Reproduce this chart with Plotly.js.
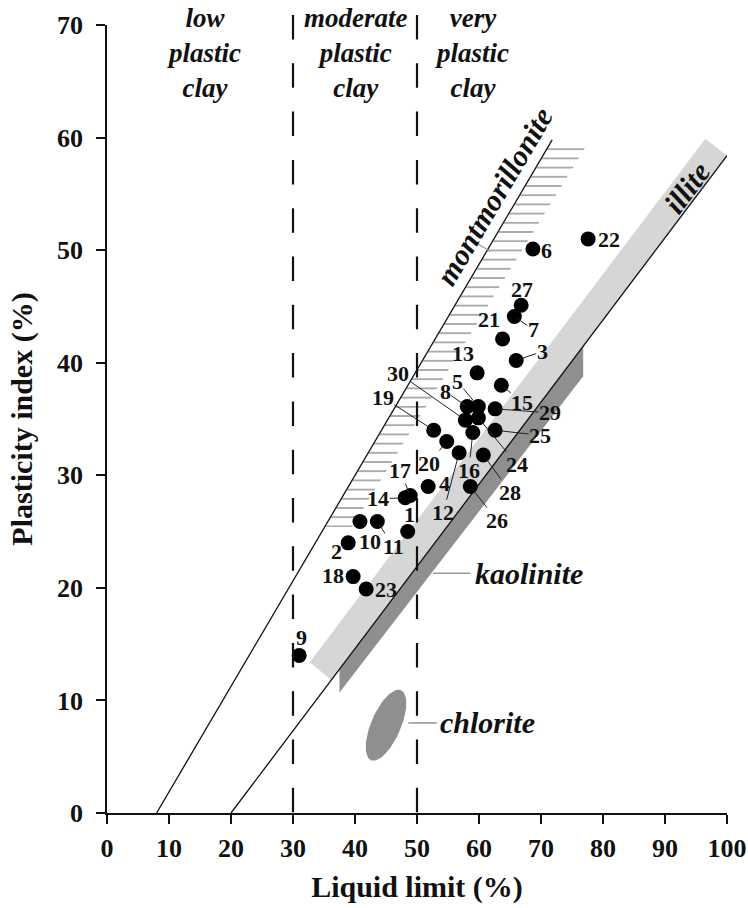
<!DOCTYPE html>
<html>
<head>
<meta charset="utf-8">
<script src="https://cdn.plot.ly/plotly-3.0.1.min.js"></script>
<style>html,body{margin:0;padding:0;background:#fff}</style>
</head>
<body>
<div id="chart" style="width:748px;height:908px"></div>
<script>
// Soil samples: liquid limit (LL, %) and plasticity index (PI, %)
const sampleIds = ['1','2','3','4','5','6','7','8','9','10','11','12','13','14','15',
                   '16','17','18','19','20','21','22','23','24','25','26','27','28','29','30'];
const liquidLimit = [48.5, 38.9, 66.0, 51.8, 59.9, 68.7, 65.7, 58.1, 31.0, 40.8, 43.6, 56.8, 59.7, 48.1, 63.6,
                     59.0, 48.9, 39.7, 52.7, 54.8, 63.8, 77.6, 41.8, 59.9, 62.6, 58.6, 66.8, 60.7, 62.6, 57.8];
const plasticityIndex = [25.0, 24.0, 40.2, 29.0, 36.1, 50.1, 44.1, 36.1, 14.0, 25.9, 25.9, 32.0, 39.1, 28.0, 38.0,
                         33.8, 28.2, 21.0, 34.0, 33.0, 42.1, 51.0, 19.9, 35.1, 34.0, 29.0, 45.1, 31.8, 35.9, 34.9];

// Upper limit line and A-line
const uLineLL = [8, 71.8];
const uLinePI = [0, 59.8];
const aLineLL = [20, 100];
const aLinePI = [0, 58.4];

// Plasticity classes along the LL axis
const zoneBoundsLL = [30, 50];
const zoneNames = ['low<br>plastic<br>clay', 'moderate<br>plastic<br>clay', 'very<br>plastic<br>clay'];
const zoneCentersLL = [15.7, 40.0, 58.8];

// Clay mineral fields
const illiteLL = [32.7, 96.5, 100.0, 36.2];
const illitePI = [13.4, 59.9, 58.4, 11.8];
const kaoliniteLL = [37.5, 76.8, 76.8, 37.5];
const kaolinitePI = [12.8, 41.5, 38.8, 10.7];
const montmorilloniteLL = [35.2, 71.2, 77.1, 39.5];
const montmorillonitePI = [25.4, 59.1, 59.1, 25.4];
// chlorite: centre and two half-axis vectors (LL, PI)
const chloriteCentre = [45.0, 7.8];
const chloriteMajor = [2.42, 3.11];
const chloriteMinor = [2.2, -0.52];

// Axis ticks
const xTicks = [0, 10, 20, 30, 40, 50, 60, 70, 80, 90, 100];
const yTicks = [0, 10, 20, 30, 40, 50, 60, 70];

// label placement around each marker: [dx px, dy px, leader line]
const labelPlacement = {
  '1':[2,-17,0], '2':[-12,9,0], '3':[26,-9,1], '4':[16,-3,0], '5':[-21,-25,1],
  '6':[14,1,0], '7':[19,13,1], '8':[-22,-15,1], '9':[2,-18,0], '10':[10,20,0],
  '11':[16,25,1], '12':[-16,60,1], '13':[-14,-19,1], '14':[-27,1,1], '15':[21,17,1],
  '16':[-4,38,1], '17':[-10,-25,1], '18':[-20,-1,0], '19':[-51,-33,1], '20':[-18,22,1],
  '21':[-14,-20,1], '22':[21,1,0], '23':[20,1,0], '24':[39,47,1], '25':[45,5,1],
  '26':[27,34,1], '27':[1,-16,0], '28':[27,37,1], '29':[55,4,1], '30':[-67,-47,1]
};

const SERIF = 'Liberation Serif, Times New Roman, serif';

const closeRing = a => a.concat([a[0]]);

// chlorite outline
const chlLL = [], chlPI = [];
for (let k = 0; k <= 72; k++) {
  const t = 2 * Math.PI * k / 72;
  chlLL.push(chloriteCentre[0] + Math.cos(t) * chloriteMajor[0] + Math.sin(t) * chloriteMinor[0]);
  chlPI.push(chloriteCentre[1] + Math.cos(t) * chloriteMajor[1] + Math.sin(t) * chloriteMinor[1]);
}

const traces = [
  { x: closeRing(illiteLL), y: closeRing(illitePI), type: 'scatter', mode: 'lines',
    fill: 'toself', fillcolor: '#d6d6d6', line: {width: 0}, hoverinfo: 'skip', showlegend: false },
  { x: closeRing(kaoliniteLL), y: closeRing(kaolinitePI), type: 'scatter', mode: 'lines',
    fill: 'toself', fillcolor: '#8f8f8f', line: {width: 0}, hoverinfo: 'skip', showlegend: false },
  { x: closeRing(montmorilloniteLL), y: closeRing(montmorillonitePI), type: 'scatter', mode: 'lines',
    fill: 'toself', fillcolor: 'rgba(0,0,0,0)', line: {width: 0},
    fillpattern: {shape: '-', size: 9.2, solidity: 0.17, fgcolor: '#9a9a9a', bgcolor: 'rgba(0,0,0,0)'},
    hoverinfo: 'skip', showlegend: false },
  { x: chlLL, y: chlPI, type: 'scatter', mode: 'lines',
    fill: 'toself', fillcolor: '#8f8f8f', line: {width: 0}, hoverinfo: 'skip', showlegend: false },
  { x: uLineLL, y: uLinePI, type: 'scatter', mode: 'lines',
    line: {color: '#111', width: 1.3}, hoverinfo: 'skip', showlegend: false },
  { x: aLineLL, y: aLinePI, type: 'scatter', mode: 'lines',
    line: {color: '#111', width: 1.3}, hoverinfo: 'skip', showlegend: false },
  { x: liquidLimit, y: plasticityIndex, text: sampleIds, type: 'scatter', mode: 'markers',
    marker: {color: '#000', size: 15}, cliponaxis: false, showlegend: false,
    hovertemplate: 'Sample %{text}<br>LL %{x}%<br>PI %{y}%<extra></extra>' }
];

const annotations = [];

// sample numbers
sampleIds.forEach((id, i) => {
  const p = labelPlacement[id];
  annotations.push({
    x: liquidLimit[i], y: plasticityIndex[i], xref: 'x', yref: 'y',
    text: id, showarrow: true, ax: p[0], ay: p[1], axref: 'pixel', ayref: 'pixel',
    arrowhead: 0, arrowwidth: 1, standoff: 3, startstandoff: 0,
    arrowcolor: p[2] ? '#222' : 'rgba(0,0,0,0)',
    borderpad: 0,
    font: {family: SERIF, size: 22, color: '#111', weight: 'bold'}
  });
});

// plasticity class headings
zoneNames.forEach((name, i) => {
  annotations.push({
    x: zoneCentersLL[i], y: 0.9645, xref: 'x', yref: 'paper', yanchor: 'middle',
    text: name, showarrow: false, align: 'center',
    font: {family: SERIF, size: 27, color: '#111', weight: 'bold', style: 'italic'}
  });
});

// mineral names
const mineralFont = {family: SERIF, size: 30, color: '#111', weight: 'bold', style: 'italic'};
annotations.push(
  { x: 62.4, y: 54.8, text: 'montmorillonite', showarrow: false, textangle: -59.5, font: mineralFont },
  { x: 93.5, y: 55.6, text: 'illite', showarrow: false, textangle: -53, font: mineralFont },
  { x: 59.0, y: 21.3, text: 'kaolinite', showarrow: false, xanchor: 'left', font: mineralFont },
  { x: 53.4, y: 8.0, text: 'chlorite', showarrow: false, xanchor: 'left', font: mineralFont }
);

const shapes = [];
// class boundaries
zoneBoundsLL.forEach(v => {
  shapes.push({ type: 'line', xref: 'x', yref: 'paper', x0: v, x1: v, y0: 1.0127, y1: 0,
    line: {color: '#111', width: 2.2, dash: '24.5px,23.8px'}, layer: 'above' });
});
// leaders to mineral names
shapes.push(
  { type: 'line', xref: 'x', yref: 'y', x0: 52.6, x1: 58.6, y0: 21.3, y1: 21.3,
    line: {color: '#999', width: 1.6}, layer: 'above' },
  { type: 'line', xref: 'x', yref: 'y', x0: 48.6, x1: 53.2, y0: 8.0, y1: 8.0,
    line: {color: '#999', width: 1.6}, layer: 'above' },
  { type: 'line', xref: 'x', yref: 'y', x0: 59.7, x1: 61.8, y0: 50.6, y1: 49.9,
    line: {color: '#999', width: 1.2}, layer: 'above' }
);

const tickFont = {family: SERIF, size: 26, color: '#111', weight: 'bold'};
const titleFont = {family: SERIF, size: 30, color: '#111', weight: 'bold'};

const layout = {
  width: 748, height: 908,
  margin: {l: 107, r: 21, t: 25, b: 95},
  paper_bgcolor: '#fff', plot_bgcolor: '#fff',
  font: {family: SERIF, color: '#111'},
  showlegend: false,
  xaxis: {
    range: [0, 100], tickvals: xTicks, ticktext: xTicks.map(String),
    showgrid: false, zeroline: false, showline: true, linecolor: '#111', linewidth: 1.5,
    ticks: 'outside', ticklen: 9, tickwidth: 1.5, tickcolor: '#111',
    tickfont: tickFont, ticklabelstandoff: 2,
    title: {text: 'Liquid limit (%)', font: titleFont, standoff: 14}
  },
  yaxis: {
    range: [0, 70], tickvals: yTicks, ticktext: yTicks.map(String),
    showgrid: false, zeroline: false, showline: true, linecolor: '#111', linewidth: 1.5,
    ticks: 'outside', ticklen: 9, tickwidth: 1.5, tickcolor: '#111',
    tickfont: tickFont, ticklabelstandoff: 8,
    title: {text: 'Plasticity index (%)', font: titleFont, standoff: 16}
  },
  annotations: annotations,
  shapes: shapes
};

Plotly.newPlot('chart', traces, layout, {displayModeBar: false, responsive: false});
</script>
</body>
</html>
